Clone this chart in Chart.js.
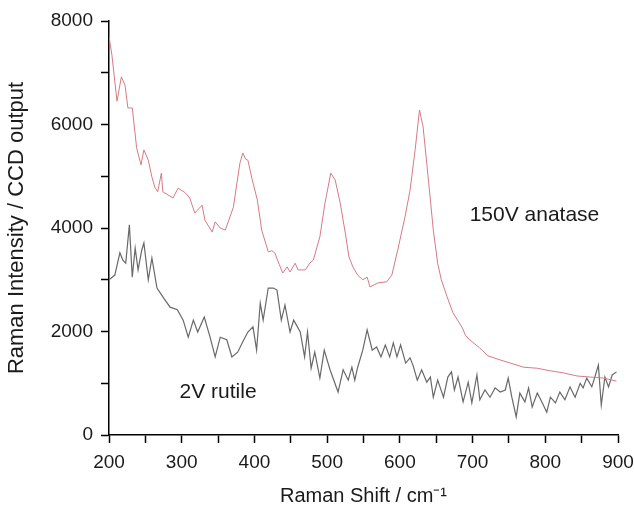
<!DOCTYPE html>
<html>
<head>
<meta charset="utf-8">
<script src="https://cdn.jsdelivr.net/npm/chart.js@4.4.0/dist/chart.umd.min.js"></script>
<style>
  html, body { margin: 0; padding: 0; background: #fff; }
  #wrap { width: 634px; height: 510px; }
</style>
</head>
<body>
<div id="wrap"><canvas id="chart1" width="634" height="510"></canvas></div>
<script>
// espectro Raman
const anataseShift = [200, 204, 211, 217, 222, 226, 232, 238, 244, 248, 254, 259, 263, 267, 272, 274, 281, 288, 295, 305,
  311, 318, 328, 332, 342, 346, 353, 360, 371, 380, 384, 388, 391, 397, 404, 410, 419, 424, 428, 434,
  439, 445, 449, 456, 460, 470, 476, 481, 490, 497, 505, 511, 518, 525, 530, 536, 542, 549, 555, 559,
  570, 582, 589, 597, 607, 614, 621, 627, 632, 637, 642, 646, 652, 657, 665, 673, 686, 690, 696, 710,
  721, 738, 752, 770, 789, 807, 825, 844, 862, 880, 898];
const anataseCounts = [7700, 7340, 6450, 6920, 6760, 6320, 6320, 5550, 5220, 5510, 5310, 4985, 4790, 4700, 5060, 4700, 4640, 4580, 4770, 4680,
  4580, 4290, 4440, 4150, 3920, 4120, 4000, 3960, 4400, 5250, 5450, 5330, 5310, 4930, 4540, 3960, 3540, 3560, 3520, 3300,
  3130, 3250, 3150, 3320, 3190, 3190, 3320, 3380, 3830, 4480, 5060, 4930, 4480, 3900, 3440, 3230, 3090, 3000, 3050, 2860,
  2940, 2960, 3090, 3570, 4210, 4730, 5510, 6280, 5950, 5250, 4540, 3960, 3320, 3000, 2670, 2360, 2070, 1930, 1840, 1680,
  1530, 1450, 1390, 1310, 1290, 1240, 1200, 1140, 1120, 1100, 1040];

const rutileShift = [200, 208, 215, 219, 223, 228, 232, 236, 240, 245, 248, 254, 259, 266, 275, 284, 294, 302, 309, 316,
  322, 331, 339, 346, 353, 362, 369, 377, 384, 391, 398, 403, 408, 412, 419, 426, 431, 437, 442, 449,
  454, 463, 469, 473, 478, 483, 490, 496, 504, 515, 522, 529, 534, 538, 542, 549, 555, 562, 568, 574,
  580, 586, 591, 596, 601, 608, 614, 618, 624, 630, 637, 642, 646, 652, 660, 666, 671, 675, 680, 687,
  694, 699, 706, 710, 717, 724, 731, 738, 745, 749, 754, 760, 765, 772, 777, 782, 789, 796, 802, 807,
  814, 820, 827, 834, 841, 848, 852, 857, 864, 869, 873, 877, 882, 887, 892, 898];
const rutileCounts = [3000, 3090, 3520, 3380, 3320, 4060, 3050, 3610, 3190, 3570, 3710, 3000, 3420, 2840, 2650, 2470, 2420, 2220, 1890, 2220,
  1990, 2280, 1890, 1510, 1890, 1840, 1510, 1600, 1800, 1990, 2090, 1640, 2550, 2220, 2840, 2840, 2800, 2220, 2510, 1990,
  2220, 1990, 1510, 1990, 1290, 1600, 1100, 1640, 1260, 830, 1260, 1060, 1310, 1060, 1310, 1640, 2030, 1640, 1700, 1510,
  1740, 1510, 1780, 1510, 1740, 1390, 1490, 1350, 1060, 1260, 1020, 1120, 730, 1060, 730, 1120, 1220, 870, 1120, 640,
  1020, 620, 1160, 680, 870, 730, 910, 830, 870, 1100, 730, 350, 810, 640, 910, 540, 810, 620, 440, 730,
  620, 830, 680, 930, 730, 1000, 910, 1100, 930, 1160, 1350, 580, 1120, 930, 1160, 1220];

const xTicks = [200, 300, 400, 500, 600, 700, 800, 900];
const yTicks = [0, 2000, 4000, 6000, 8000];

// rótulos dentro do gráfico (posição em unidades dos dados)
const seriesLabels = [
  { text: '150V anatase', x: 696, y: 4250 },
  { text: '2V rutile', x: 297, y: 830 }
];

const fonte = '"Liberation Sans", Arial, Helvetica, sans-serif';

const labelPlugin = {
  id: 'seriesLabels',
  afterDatasetsDraw(chart) {
    const { ctx, scales } = chart;
    ctx.save();
    ctx.fillStyle = '#1a1a1a';
    ctx.font = '21px ' + fonte;
    ctx.textBaseline = 'middle';
    seriesLabels.forEach(l => {
      ctx.fillText(l.text, scales.x.getPixelForValue(l.x), scales.y.getPixelForValue(l.y));
    });
    ctx.restore();
  }
};

function toPoints(xs, ys) {
  return xs.map((x, i) => ({ x: x, y: ys[i] }));
}

const ctx = document.getElementById('chart1').getContext('2d');
new Chart(ctx, {
  type: 'line',
  data: {
    datasets: [
      {
        label: '150V anatase',
        data: toPoints(anataseShift, anataseCounts),
        borderColor: 'rgb(214, 122, 132)',
        borderWidth: 1,
        pointRadius: 0,
        tension: 0
      },
      {
        label: '2V rutile',
        data: toPoints(rutileShift, rutileCounts),
        borderColor: 'rgb(105, 105, 105)',
        borderWidth: 1.2,
        pointRadius: 0,
        tension: 0
      }
    ]
  },
  options: {
    responsive: false,
    animation: false,
    layout: { padding: { top: 21, right: 16, left: 0, bottom: 0 } },
    plugins: {
      legend: { display: false },
      tooltip: { enabled: false }
    },
    scales: {
      x: {
        type: 'linear',
        min: 200,
        max: 900,
        afterFit: s => { s.height = 75; s.paddingRight = 0; },
        border: { color: '#000', width: 1.5 },
        grid: { drawOnChartArea: false, tickColor: '#000', tickLength: 8, tickWidth: 1.5 },
        afterBuildTicks: s => {
          s.ticks = [];
          for (let v = 200; v <= 900; v += 50) s.ticks.push({ value: v });
        },
        ticks: {
          autoSkip: false,
          maxRotation: 0,
          color: '#1a1a1a',
          font: { family: fonte, size: 19 },
          padding: 8,
          callback: v => xTicks.includes(v) ? String(v) : ''
        },
        title: {
          display: true,
          text: 'Raman Shift / cm⁻¹',
          color: '#1a1a1a',
          font: { family: fonte, size: 20 },
          padding: { top: 0, bottom: 2 }
        }
      },
      y: {
        min: 0,
        max: 8000,
        afterFit: s => { s.width = 109; },
        border: { color: '#000', width: 1.5 },
        grid: { drawOnChartArea: false, tickColor: '#000', tickLength: 8, tickWidth: 1.5 },
        afterBuildTicks: s => {
          s.ticks = [];
          for (let v = 0; v <= 8000; v += 1000) s.ticks.push({ value: v });
        },
        ticks: {
          autoSkip: false,
          color: '#1a1a1a',
          font: { family: fonte, size: 19 },
          padding: 8,
          callback: v => yTicks.includes(v) ? String(v) : ''
        },
        title: {
          display: true,
          text: 'Raman Intensity / CCD output',
          color: '#1a1a1a',
          font: { family: fonte, size: 22 },
          padding: { top: 4, bottom: 0 }
        }
      }
    }
  },
  plugins: [labelPlugin]
});
</script>
</body>
</html>
